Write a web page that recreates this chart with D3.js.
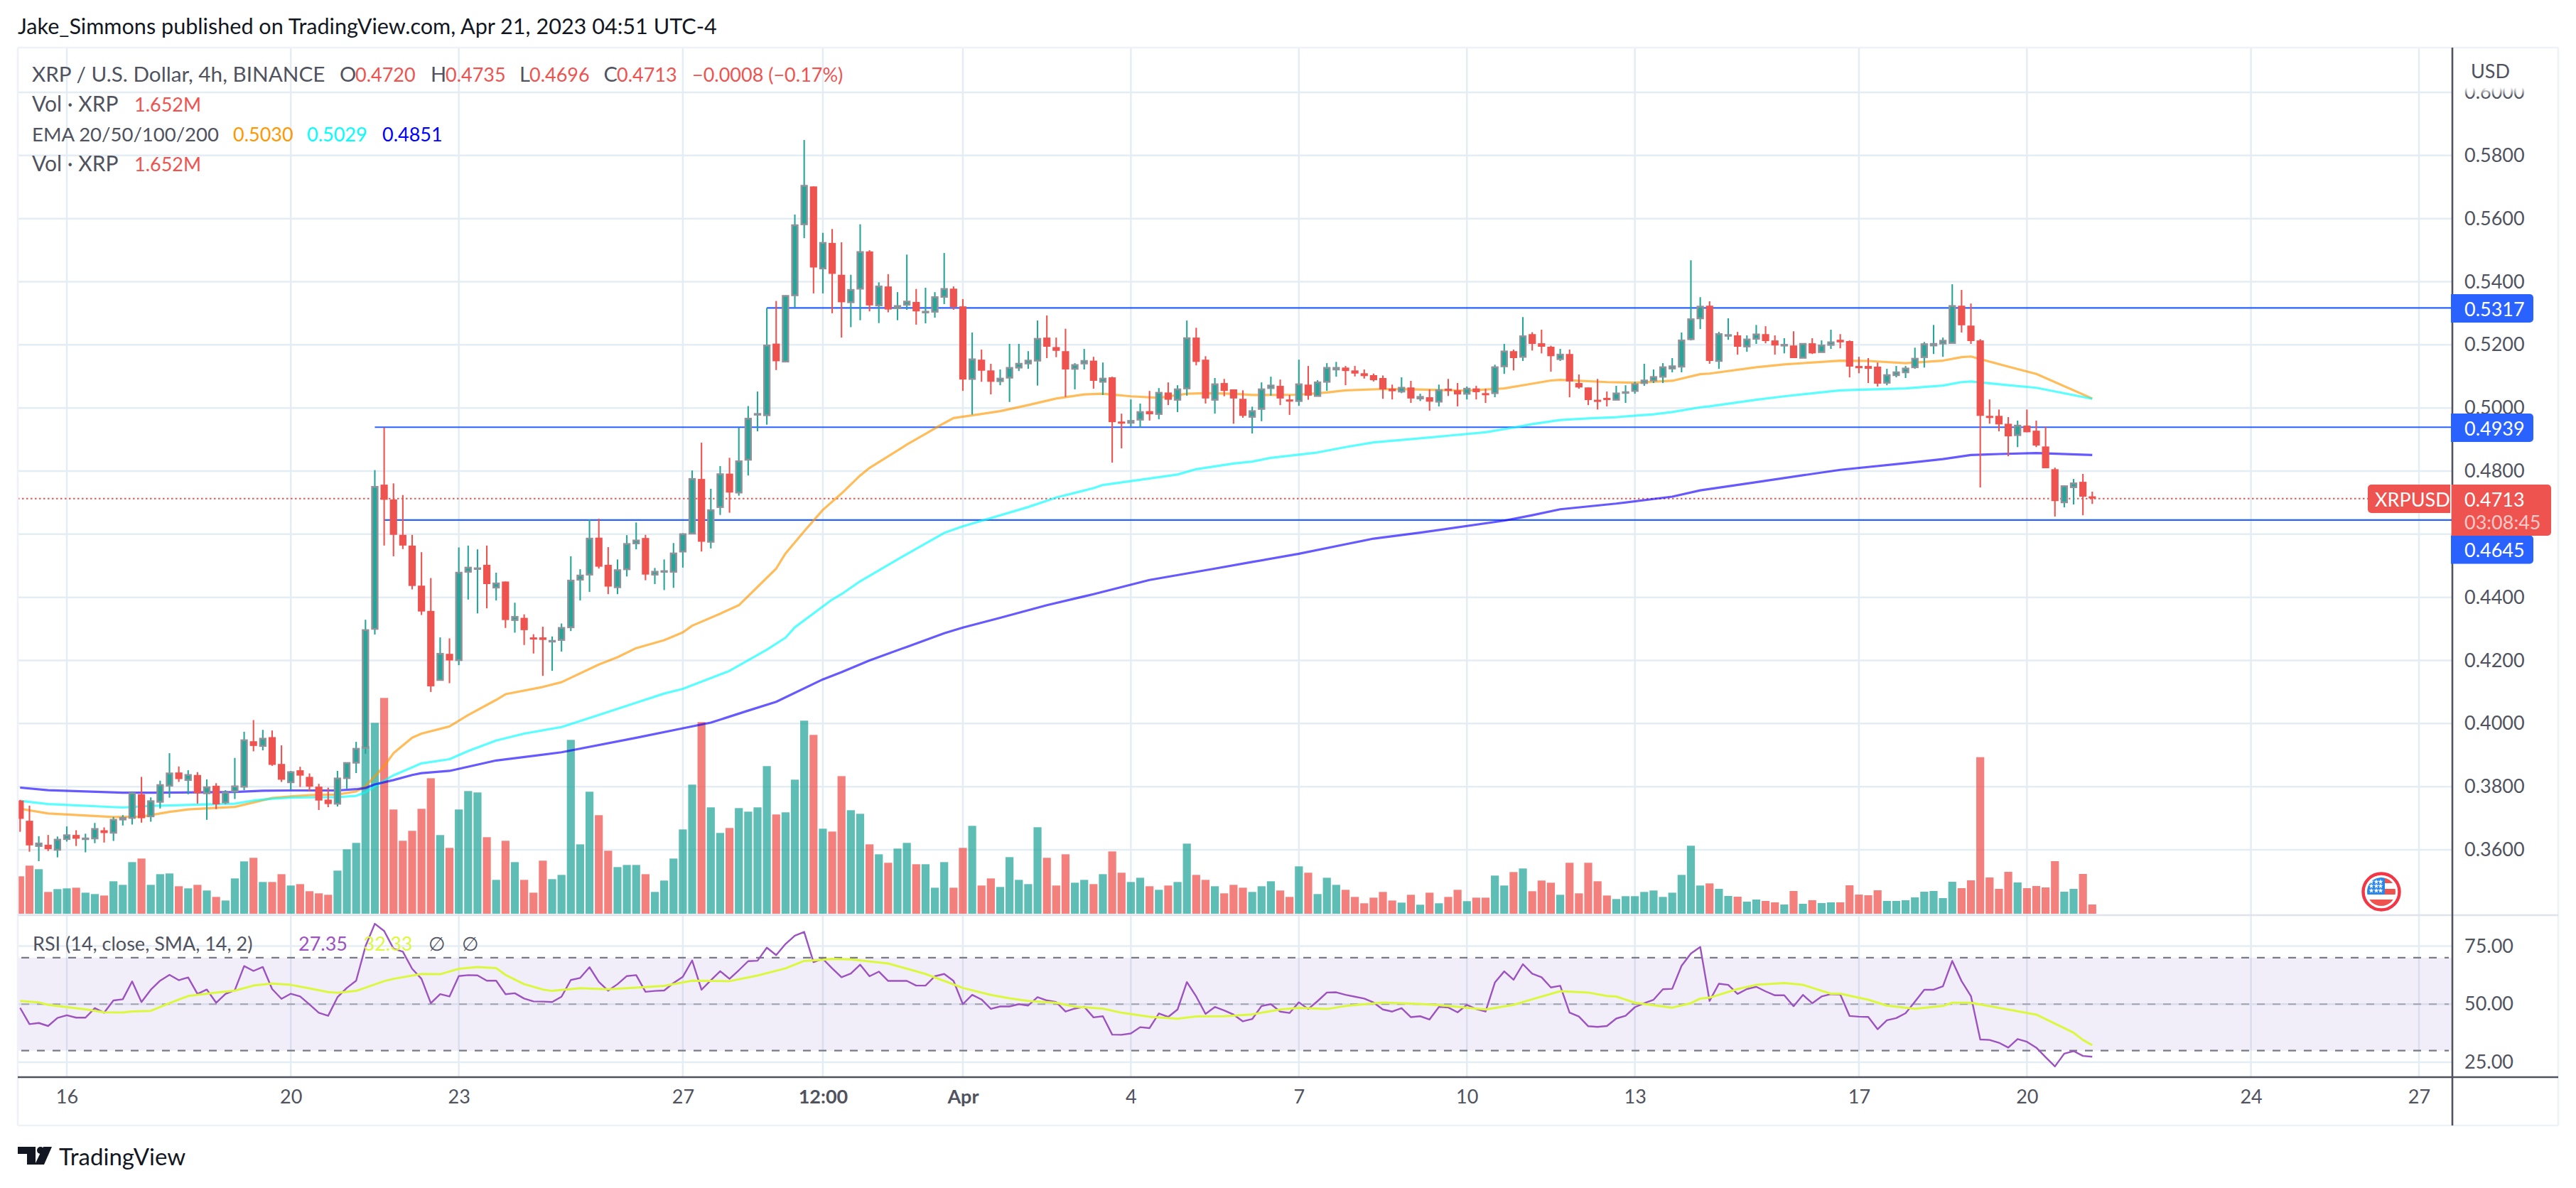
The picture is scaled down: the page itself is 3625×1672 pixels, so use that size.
<!DOCTYPE html>
<html><head><meta charset="utf-8"><script src="https://cdn.jsdelivr.net/npm/d3@7/dist/d3.min.js"></script>
<style>html,body{margin:0;padding:0;background:#fff}svg{display:block}text{font-family:Lato,"Open Sans",sans-serif}</style>
</head><body><svg id="c" width="3625" height="1672" viewBox="0 0 3625 1672"></svg>
<script>
// 4h bars, first bar = 5 bars before Mar 16 00:00
const firstBar = -5;
const opens = [.3756,.3692,.3612,.3616,.3600,.3634,.3647,.3636,.3636,.3662,
.3654,.3696,.3701,.3776,.3706,.3752,.3803,.3845,.3821,.3837,
.3779,.3803,.3750,.3785,.3800,.3944,.3929,.3957,.3872,.3814,
.3852,.3831,.3800,.3759,.3746,.3827,.3876,.3923,.4300,.4757,
.4710,.4598,.4564,.4437,.4357,.4138,.4221,.4201,.4481,.4492,
.4503,.4431,.4450,.4328,.4335,.4273,.4273,.4262,.4265,.4305,
.4456,.4472,.4589,.4503,.4432,.4489,.4571,.4588,.4472,.4483,
.4481,.4545,.4602,.4775,.4576,.4686,.4792,.4732,.4836,.4981,
.4977,.5204,.5147,.5357,.5582,.5702,.5442,.5523,.5422,.5335,
.5378,.5496,.5325,.5385,.5316,.5327,.5336,.5305,.5305,.5352,
.5378,.5322,.5092,.5153,.5119,.5085,.5096,.5128,.5141,.5150,
.5223,.5193,.5180,.5124,.5141,.5150,.5083,.5097,.4957,.4953,
.4963,.4990,.4981,.5049,.5026,.5062,.5223,.5153,.5026,.5079,
.5059,.5029,.4972,.4997,.5063,.5070,.5027,.5022,.5074,.5038,
.5083,.5122,.5128,.5119,.5110,.5104,.5095,.5061,.5052,.5065,
.5030,.5034,.5020,.5061,.5056,.5045,.5062,.5047,.5047,.5132,
.5180,.5162,.5234,.5205,.5194,.5155,.5171,.5079,.5065,.5026,
.5032,.5026,.5048,.5054,.5079,.5087,.5099,.5125,.5131,.5218,
.5284,.5324,.5149,.5231,.5230,.5195,.5219,.5234,.5214,.5200,
.5198,.5159,.5205,.5177,.5200,.5216,.5212,.5133,.5133,.5131,
.5080,.5104,.5113,.5129,.5161,.5198,.5204,.5206,.5324,.5261,
.5214,.4975,.4975,.4950,.4914,.4944,.4928,.4878,.4806,.4701,
.4749,.4766,.4720];
const high = [.3758,.3740,.3643,.3647,.3642,.3674,.3662,.3651,.3685,.3671,
.3704,.3710,.3785,.3831,.3766,.3819,.3906,.3864,.3852,.3846,
.3823,.3811,.3789,.3891,.3974,.4011,.3980,.3978,.3931,.3850,
.3863,.3842,.3809,.3797,.3850,.3875,.3942,.4329,.4803,.4938,
.4761,.4724,.4598,.4543,.4461,.4273,.4270,.4558,.4564,.4552,
.4564,.4478,.4450,.4383,.4346,.4283,.4307,.4276,.4317,.4530,
.4489,.4647,.4649,.4559,.4520,.4597,.4637,.4598,.4493,.4520,
.4572,.4603,.4802,.4890,.4744,.4816,.4842,.4938,.5006,.5052,
.5317,.5339,.5357,.5613,.5849,.5702,.5555,.5567,.5525,.5422,
.5582,.5500,.5398,.5424,.5367,.5486,.5377,.5381,.5367,.5491,
.5385,.5345,.5239,.5185,.5140,.5122,.5203,.5203,.5180,.5277,
.5293,.5223,.5251,.5142,.5187,.5162,.5144,.5099,.4982,.5027,
.5014,.5054,.5063,.5081,.5072,.5277,.5254,.5164,.5095,.5092,
.5059,.5056,.5004,.5081,.5099,.5090,.5041,.5153,.5133,.5088,
.5142,.5146,.5133,.5133,.5122,.5109,.5103,.5074,.5097,.5086,
.5045,.5059,.5074,.5092,.5079,.5068,.5070,.5061,.5137,.5203,
.5185,.5288,.5240,.5248,.5197,.5187,.5185,.5106,.5065,.5092,
.5052,.5070,.5072,.5083,.5140,.5122,.5142,.5158,.5239,.5468,
.5351,.5338,.5241,.5284,.5241,.5230,.5263,.5259,.5230,.5221,
.5243,.5205,.5221,.5214,.5248,.5234,.5214,.5162,.5158,.5144,
.5124,.5133,.5133,.5191,.5209,.5263,.5223,.5392,.5374,.5331,
.5218,.5027,.4995,.4971,.4960,.4995,.4960,.4941,.4811,.4754,
.4775,.4791,.4735];
const low = [.3657,.3594,.3564,.3596,.3576,.3626,.3612,.3592,.3621,.3623,
.3628,.3677,.3680,.3686,.3689,.3731,.3765,.3815,.3776,.3746,
.3695,.3729,.3745,.3761,.3789,.3912,.3915,.3866,.3815,.3790,
.3799,.3786,.3726,.3735,.3737,.3794,.3843,.3904,.4282,.4564,
.4530,.4553,.4425,.4344,.4100,.4137,.4128,.4185,.4393,.4349,
.4365,.4390,.4303,.4288,.4249,.4222,.4151,.4167,.4228,.4293,
.4390,.4417,.4491,.4410,.4410,.4466,.4552,.4454,.4442,.4423,
.4430,.4494,.4602,.4545,.4555,.4661,.4668,.4722,.4786,.4926,
.4947,.5120,.5147,.5318,.5538,.5363,.5363,.5300,.5223,.5256,
.5278,.5306,.5269,.5303,.5278,.5311,.5264,.5268,.5286,.5329,
.5311,.5054,.4979,.5083,.5043,.5072,.5019,.5117,.5124,.5071,
.5158,.5161,.5035,.5059,.5122,.5061,.5041,.4827,.4872,.4941,
.4938,.4960,.4964,.5009,.4987,.5039,.5135,.5014,.4982,.5037,
.4950,.4969,.4919,.4958,.5039,.5009,.4978,.5007,.5026,.5037,
.5054,.5099,.5072,.5100,.5093,.5084,.5029,.5027,.5047,.5016,
.5022,.4991,.5005,.5038,.5005,.5027,.5027,.5016,.5034,.5108,
.5119,.5149,.5182,.5173,.5115,.5149,.5034,.5061,.5009,.4995,
.5005,.5026,.5016,.5045,.5070,.5079,.5079,.5113,.5113,.5214,
.5250,.5140,.5124,.5216,.5169,.5178,.5203,.5205,.5169,.5173,
.5158,.5158,.5171,.5176,.5187,.5189,.5097,.5110,.5079,.5068,
.5072,.5097,.5095,.5124,.5128,.5171,.5162,.5205,.5239,.5203,
.4748,.4950,.4926,.4847,.4876,.4923,.4876,.4809,.4656,.4685,
.4694,.4660,.4696];
const closes = [.3698,.3614,.3620,.3602,.3632,.3646,.3635,.3636,.3666,.3653,
.3695,.3701,.3779,.3700,.3754,.3805,.3842,.3824,.3837,.3779,
.3798,.3744,.3781,.3801,.3947,.3929,.3952,.3869,.3822,.3846,
.3835,.3800,.3756,.3745,.3826,.3875,.3920,.4296,.4750,.4709,
.4598,.4564,.4436,.4355,.4118,.4221,.4200,.4478,.4494,.4492,
.4442,.4444,.4328,.4338,.4296,.4267,.4265,.4262,.4303,.4453,
.4469,.4586,.4497,.4434,.4486,.4569,.4580,.4472,.4481,.4483,
.4539,.4600,.4775,.4576,.4676,.4790,.4732,.4831,.4966,.4981,
.5198,.5148,.5355,.5579,.5704,.5445,.5523,.5425,.5335,.5374,
.5494,.5325,.5385,.5312,.5323,.5337,.5306,.5305,.5351,.5377,
.5320,.5090,.5154,.5118,.5083,.5093,.5127,.5140,.5150,.5219,
.5194,.5181,.5122,.5136,.5149,.5086,.5093,.4955,.4953,.4959,
.4987,.4980,.5048,.5026,.5059,.5221,.5146,.5030,.5075,.5054,
.5030,.4975,.4990,.5059,.5071,.5030,.5021,.5075,.5039,.5081,
.5127,.5127,.5117,.5109,.5101,.5088,.5059,.5053,.5064,.5030,
.5035,.5020,.5056,.5054,.5043,.5061,.5050,.5044,.5129,.5179,
.5158,.5227,.5203,.5194,.5164,.5169,.5084,.5065,.5025,.5023,
.5025,.5046,.5050,.5075,.5087,.5098,.5129,.5132,.5214,.5281,
.5321,.5149,.5234,.5231,.5194,.5217,.5233,.5212,.5198,.5200,
.5158,.5203,.5173,.5198,.5208,.5208,.5131,.5126,.5124,.5077,
.5104,.5113,.5125,.5156,.5202,.5203,.5213,.5323,.5262,.5212,
.4975,.4972,.4948,.4910,.4944,.4923,.4881,.4809,.4705,.4752,
.4761,.4719,.4713];
// volume in millions of XRP
const volume = [6.70,8.61,7.97,3.90,4.41,4.54,4.66,3.77,3.52,3.26,
5.81,5.17,9.24,9.88,5.17,7.08,7.21,4.92,4.54,5.17,
4.16,3.01,2.37,6.32,9.37,10.01,5.68,5.68,7.08,5.05,
5.30,4.03,3.65,3.39,7.72,11.53,12.68,29.98,34.17,38.63,
18.66,13.06,14.84,18.78,24.25,14.08,11.79,18.66,21.96,21.71,
13.70,6.06,13.06,9.24,6.06,3.77,9.50,6.19,6.95,31.12,
12.42,21.84,17.64,11.28,8.35,8.73,8.73,7.08,3.90,5.94,
9.88,15.09,23.11,34.30,19.04,14.46,15.35,18.91,18.27,19.04,
26.42,17.77,18.15,24.00,34.56,32.01,15.22,14.71,24.63,18.53,
17.89,12.42,10.64,9.12,11.66,12.68,8.86,8.86,4.66,9.24,
4.66,11.79,15.73,5.05,6.32,4.79,10.13,6.06,5.30,15.48,
10.01,5.05,10.64,5.55,6.06,5.30,7.08,11.15,7.34,5.68,
6.44,4.92,4.28,5.05,5.68,12.55,6.95,6.06,4.92,3.65,
5.17,4.66,3.90,4.92,5.81,4.16,3.01,8.48,7.34,3.52,
6.44,5.17,4.28,3.01,1.87,2.88,3.90,2.37,1.99,3.39,
1.61,3.77,1.87,3.01,4.28,2.25,2.88,2.88,6.83,5.05,
7.46,8.10,4.03,5.94,5.55,3.39,9.12,3.65,9.12,5.81,
3.26,2.63,3.14,3.14,3.90,4.16,3.01,3.77,6.95,12.17,
5.05,5.43,4.45,3.18,3.05,2.16,2.54,2.29,2.04,1.65,
4.07,1.78,2.42,1.91,2.04,2.04,5.09,3.43,3.31,4.20,
2.29,2.29,2.42,2.93,3.94,4.07,2.80,5.72,4.58,5.98,
28.03,6.49,4.45,7.50,5.60,4.58,4.96,4.71,9.41,3.94,
4.45,7.12,1.652];
const rsi = [48.4,41.4,41.9,40.6,44.1,45.2,44.2,44.2,48.3,46.3,
51.6,52.1,59.8,50.9,56.2,60.1,62.6,60.3,61.5,54.4,
56.3,50.6,54.4,56.0,66.4,64.3,66.0,56.5,52.3,54.5,
53.3,49.9,46.3,45.0,53.0,57.0,60.1,74.9,84.6,81.5,
73.9,72.6,65.2,60.9,50.4,54.3,53.3,62.1,62.5,62.4,
60.1,60.1,54.3,54.7,52.4,51.2,51.1,50.9,53.2,60.4,
61.3,65.9,59.6,55.8,58.6,62.1,62.5,55.3,55.7,55.9,
59.1,61.8,68.8,56.2,60.3,64.2,60.9,64.6,68.5,68.7,
74.3,71.1,75.9,79.5,81.1,68.1,69.5,65.4,61.6,63.2,
67,62,64,60,60,60,58,58,62,63,
60,50,54,52,48,49,49,50,49.4,53.0,
51.6,50.9,46.8,48.1,48.9,44.3,44.8,36.9,36.8,37.4,
40.1,39.7,46.0,44.5,47.7,59.5,53.3,45.8,48.8,47.3,
45.5,42.6,43.6,49.2,50.0,46.8,46.2,50.8,47.9,51.3,
55.0,55.1,54.0,53.2,52.4,50.7,47.7,46.8,48.3,44.4,
44.8,43.4,48.8,48.6,46.5,49.7,47.9,46.8,59.3,64.1,
60.5,67.2,63.1,61.6,57.2,57.9,46.4,44.7,40.5,40.2,
40.6,43.8,45.0,48.7,50.4,51.9,56.4,56.6,66.5,71.8,
74.6,51.4,58.8,58.3,54.4,56.5,57.5,55.5,53.8,53.8,
49.1,54.0,50.4,53.3,54.3,54.2,44.9,44.6,44.5,39.2,
43.1,44.0,46.1,51.1,56.2,56.2,57.7,68.6,59.9,53.5,
34.8,34.6,33.4,31.3,35.0,33.8,31.3,27.2,23.2,28.7,
29.8,27.7,27.35];
const rsiSmaBars = [-5,-3,-2,2,4,6,7,9,11,13,16,18,20,22,24,26,28,29,31,34,35,38,40,42,44,46,47,49,51,52,55,58,61,64,67,71,74,77,79,81,82,84,88,92,96,99,101,103,106,108,111,113,116,119,121,124,127,130,132,135,137,141,145,147,152,155,157,160,163,165,166,168,172,174,175,176,179,181,184,186,189,190,193,195,198,201,202,204,207,211,215,216,217];
const rsiSma = [51.4,50.8,49.7,47.8,46.5,46.4,46.9,47.1,50.4,53.5,55,55.8,58,58.9,58.3,56.8,55.2,54.9,55.7,59.9,60.9,63,62.9,65.2,66,65.5,62.6,58.6,56.3,55.7,56.9,56.4,57.1,57.9,60.1,59.9,62.3,65.4,68.6,69.1,69.5,69.3,67.5,63,57,54,52.5,51.4,50.6,48.9,48.1,46.3,44.6,43.7,44.7,44.8,45.6,47.7,48.4,47.9,49.2,50.7,50.1,49.6,47.7,49.7,52.1,55.6,55,53.5,53.3,50.6,48.5,50.4,52.4,52.8,56.5,58.3,59.1,58.3,54.5,54.5,51.9,49.4,48,49.2,50.6,50.6,48.4,45.5,37.7,34.6,32.33];
const emaOrangeBars = [-5,-2,5,8,11,13,18,22,24,26,29,31,32,34,35,37,38,41,43,46,47,51,53,57,59,61,64,66,67,70,72,76,77,79,81,83,85,86,90,92,94,95,98,100,103,106,109,111,114,117,120,122,125,127,132,135,137,141,144,150,154,157,159,160,165,168,172,175,176,181,184,190,193,197,201,203,204,208,211,217];
const emaOrange = [.3730,.3715,.3704,.3705,.3720,.3728,.3736,.3764,.3769,.3773,.3775,.3785,.3801,.3865,.3906,.3955,.3968,.3991,.4027,.4075,.4093,.4116,.4131,.4187,.4210,.4239,.4264,.4289,.4310,.4348,.4375,.4491,.4539,.4609,.4677,.4729,.4786,.4810,.4884,.4918,.4952,.4968,.4981,.4990,.5009,.5030,.5043,.5045,.5037,.5032,.5045,.5047,.5045,.5041,.5042,.5049,.5056,.5060,.5059,.5055,.5062,.5077,.5087,.5089,.5082,.5080,.5086,.5107,.5109,.5129,.5138,.5150,.5149,.5142,.5150,.5161,.5163,.5131,.5108,.5030];
const emaCyanBars = [-5,-2,6,9,15,18,20,22,24,26,29,31,32,33,35,37,38,41,43,46,49,53,57,61,64,66,71,75,77,78,82,83,85,90,94,96,103,106,110,111,119,121,125,127,129,134,137,140,145,152,155,157,160,163,166,170,172,175,176,181,184,190,197,201,203,204,208,211,217];
const emaCyan = [.3755,.3745,.3734,.3739,.3744,.3746,.3756,.3762,.3765,.3766,.3767,.3771,.3782,.3801,.3836,.3861,.3874,.3887,.3913,.3946,.3968,.3989,.4027,.4066,.4095,.4110,.4167,.4234,.4272,.4305,.4393,.4410,.4451,.4537,.4604,.4625,.4686,.4716,.4746,.4756,.4789,.4806,.4824,.4830,.4842,.4859,.4876,.4891,.4904,.4923,.4938,.4949,.4962,.4967,.4971,.4980,.4987,.5002,.5005,.5026,.5037,.5056,.5062,.5071,.5082,.5084,.5072,.5064,.5029];
const emaBlueBars = [-5,-2,6,9,18,21,24,29,31,32,33,35,37,38,41,46,53,61,66,69,73,76,81,83,86,90,94,96,100,105,110,116,123,127,132,137,140,145,154,157,160,166,172,175,181,190,197,201,204,207,211,217];
const emaBlue = [.3797,.3789,.3781,.3781,.3783,.3787,.3788,.3788,.3792,.3796,.3807,.3821,.3837,.3843,.3850,.3883,.3909,.3955,.3985,.4003,.4041,.4069,.4140,.4163,.4200,.4243,.4286,.4304,.4335,.4375,.4410,.4455,.4491,.4512,.4538,.4568,.4586,.4605,.4643,.4660,.4679,.4697,.4719,.4739,.4765,.4804,.4825,.4838,.4851,.4854,.4857,.4851];
const levels = [.5317,.4939,.4645];
const levelStartBars = [75,33,34];
const priceTicks = [.60,.58,.56,.54,.52,.50,.48,.46,.44,.42,.40,.38,.36];
const rsiTicks = [75,50,25];
const timeTickBars = [0,24,42,66,81,96,114,132,150,168,192,210,234,252];
const timeTickLabels = ["16","20","23","27","12:00","Apr","4","7","10","13","17","20","24","27"];
const lastPrice = .4713;

const L=25,R=3600,T=67,AX=3451,PB=1288,RB=1516,B=1584;
const GRID="#e4edf3",TXT="#50535e",UP="#26a69a",DN="#ef5350";
const svg=d3.select("#c");
const defs=svg.append("defs");
defs.append("clipPath").attr("id","mainClip").append("rect").attr("x",L).attr("y",T).attr("width",AX-L).attr("height",PB-T);
defs.append("clipPath").attr("id","rsiClip").append("rect").attr("x",L).attr("y",PB).attr("width",AX-L).attr("height",RB-PB);
defs.append("clipPath").attr("id","topClip").append("rect").attr("x",AX).attr("y",123).attr("width",R-AX).attr("height",60);
defs.append("clipPath").attr("id","flagClip").append("circle").attr("cx",3351).attr("cy",1255).attr("r",20);
const fade=defs.append("linearGradient").attr("id","fade").attr("x1",0).attr("y1",0).attr("x2",0).attr("y2",1);
fade.append("stop").attr("offset",0).attr("stop-color","#fff").attr("stop-opacity",1);
fade.append("stop").attr("offset",1).attr("stop-color","#fff").attr("stop-opacity",0);

const x=d3.scaleLinear().domain([0,252]).range([94,3404]);
const y=d3.scaleLinear().domain([.36,.60]).range([1196,130]);
const v=d3.scaleLinear().domain([0,40]).range([1286,971.5]);
const r=d3.scaleLinear().domain([25,75]).range([1495,1331.5]);
const bars=d3.range(opens.length).map(i=>({k:i+firstBar,o:opens[i],h:high[i],l:low[i],c:closes[i],v:volume[i],r:rsi[i]}));
const up=d=>d.c>=d.o;

// frame & grid
const grid=svg.append("g").attr("stroke",GRID).attr("stroke-width",2.5).attr("fill","none");
grid.selectAll("line.t").data(timeTickBars).join("line").attr("class","t").attr("x1",d=>x(d)).attr("x2",d=>x(d)).attr("y1",T).attr("y2",RB);
grid.selectAll("line.p").data(priceTicks).join("line").attr("class","p").attr("x1",L).attr("x2",AX).attr("y1",d=>y(d)).attr("y2",d=>y(d));
grid.selectAll("line.r").data(rsiTicks).join("line").attr("class","r").attr("x1",L).attr("x2",AX).attr("y1",d=>r(d)).attr("y2",d=>r(d));

// volume
const main=svg.append("g").attr("clip-path","url(#mainClip)");
main.append("g").selectAll("rect").data(bars).join("rect")
 .attr("x",d=>x(d.k)-5.6).attr("width",11.2).attr("y",d=>v(d.v)).attr("height",d=>v(0)-v(d.v))
 .attr("fill",d=>up(d)?UP:DN).attr("fill-opacity",.74);

// levels and last price
main.append("g").selectAll("line").data(levels).join("line")
 .attr("x1",(d,i)=>x(levelStartBars[i])).attr("x2",AX).attr("y1",d=>y(d)).attr("y2",d=>y(d))
 .attr("stroke","#2962ff").attr("stroke-width",2.2);
main.append("line").attr("x1",L).attr("x2",3332).attr("y1",y(lastPrice)).attr("y2",y(lastPrice))
 .attr("stroke",DN).attr("stroke-width",2).attr("stroke-dasharray","2.5 3.5");

// EMAs
const emaLine=d3.line().x(d=>x(d[0])).y(d=>y(d[1]));
[[emaOrangeBars,emaOrange,"#ff9800"],[emaCyanBars,emaCyan,"#00ffff"],[emaBlueBars,emaBlue,"#1400ff"]].forEach(([b,vals,col])=>{
 main.append("path").attr("d",emaLine(d3.zip(b,vals))).attr("fill","none").attr("stroke",col).attr("stroke-opacity",.65).attr("stroke-width",3.2).attr("stroke-linejoin","round");
});

// candles
const cg=main.append("g");
cg.selectAll("line").data(bars).join("line").attr("x1",d=>x(d.k)).attr("x2",d=>x(d.k)).attr("y1",d=>y(d.h)).attr("y2",d=>y(d.l))
 .attr("stroke",d=>up(d)?UP:DN).attr("stroke-width",2.1);
cg.selectAll("rect").data(bars).join("rect")
 .attr("x",d=>up(d)?x(d.k)-3.9:x(d.k)-5.1).attr("width",d=>up(d)?7.8:10.2)
 .attr("y",d=>y(Math.max(d.o,d.c)))
 .attr("height",d=>Math.max(Math.abs(y(d.o)-y(d.c)),up(d)?1:3))
 .attr("fill",d=>up(d)?UP:DN)
 .attr("stroke",d=>up(d)?"#8f9299":"none").attr("stroke-width",2.5);

// RSI
const rg=svg.append("g").attr("clip-path","url(#rsiClip)");
rg.append("rect").attr("x",L).attr("width",AX-L).attr("y",r(70)).attr("height",r(30)-r(70)).attr("fill","#7e57c2").attr("fill-opacity",.1);
rg.selectAll("line.d").data([70,50,30]).join("line").attr("class","d").attr("x1",L+5).attr("x2",AX-5).attr("y1",d=>r(d)).attr("y2",d=>r(d))
 .attr("stroke","#787b86").attr("stroke-opacity",d=>d===50?.6:1).attr("stroke-width",2.2).attr("stroke-dasharray","11 11");
const rLine=d3.line().x(d=>x(d[0])).y(d=>r(d[1]));
rg.append("path").attr("d",rLine(bars.map(d=>[d.k,d.r]))).attr("fill","none").attr("stroke","#9c52c0").attr("stroke-width",2.4).attr("stroke-linejoin","round");
rg.append("path").attr("d",rLine(d3.zip(rsiSmaBars,rsiSma))).attr("fill","none").attr("stroke","#dcf83c").attr("stroke-width",3).attr("stroke-linejoin","round");

// frame lines
const frame=svg.append("g");
[[L,T,R,T,"#eef1f6"],[L,T,L,B,"#eef1f6"],[R,T,R,B,"#eef1f6"],[L,B,R,B,"#eef1f6"],[L,PB,R,PB,"#e0e3eb"]].forEach(a=>{
 frame.append("line").attr("x1",a[0]).attr("y1",a[1]).attr("x2",a[2]).attr("y2",a[3]).attr("stroke",a[4]).attr("stroke-width",2.6);
});
frame.append("line").attr("x1",L).attr("x2",R).attr("y1",RB).attr("y2",RB).attr("stroke",TXT).attr("stroke-width",2.6);
frame.append("line").attr("x1",AX).attr("x2",AX).attr("y1",T).attr("y2",B).attr("stroke",TXT).attr("stroke-width",2.6);

// axes
const axisFont=27;
function styleAxis(g){g.select(".domain").remove();g.selectAll("text").attr("fill",TXT).style("font-family","Lato,'Open Sans',sans-serif").style("font-size",axisFont+"px");}
svg.append("g").attr("transform",`translate(${AX},0)`)
 .call(d3.axisRight(y).tickValues(priceTicks.filter(d=>d!==.60&&d!==.46)).tickFormat(d3.format(".4f")).tickSize(0).tickPadding(17)).call(styleAxis);
const topTick=svg.append("g").attr("clip-path","url(#topClip)");
topTick.append("g").attr("transform",`translate(${AX},0)`).call(d3.axisRight(y).tickValues([.60]).tickFormat(d3.format(".4f")).tickSize(0).tickPadding(17)).call(styleAxis);
topTick.append("rect").attr("x",AX+5).attr("width",140).attr("y",123).attr("height",12).attr("fill","url(#fade)");
svg.append("g").attr("transform",`translate(${AX},0)`).call(d3.axisRight(r).tickValues(rsiTicks).tickFormat(d3.format(".2f")).tickSize(0).tickPadding(17)).call(styleAxis);
svg.append("g").attr("transform",`translate(0,1526)`)
 .call(d3.axisBottom(x).tickValues(timeTickBars).tickFormat((d,i)=>timeTickLabels[i]).tickSize(0).tickPadding(8)).call(styleAxis)
 .selectAll("text").style("font-weight",(d,i)=>(i===4||i===5)?"700":"400");
const t=(s,xp,yp,o={})=>svg.append("text").text(s).attr("x",xp).attr("y",yp).attr("fill",o.fill||TXT).attr("font-size",o.size||27).attr("font-weight",o.w||400).attr("text-anchor",o.a||"start").attr("dominant-baseline",o.b||"auto");
t("USD",3477,99,{b:"central"});

// price labels
levels.forEach((p,i)=>{
 const cy=[434,602,773.5][i];
 svg.append("path").attr("d",`M${AX-2},${cy-20}H3560a5,5 0 0 1 5,5V${cy+15}a5,5 0 0 1 -5,5H${AX-2}Z`).attr("fill","#2962ff");
 t(d3.format(".4f")(p),3468,cy,{fill:"#fff",b:"central"});
});
svg.append("path").attr("d",`M${AX-1},682H3585a5,5 0 0 1 5,5V749a5,5 0 0 1 -5,5H${AX-1}Z`).attr("fill",DN);
t(d3.format(".4f")(lastPrice),3468,702,{fill:"#fff",b:"central"});
t("03:08:45",3468,734,{fill:"#fff",b:"central"}).attr("fill-opacity",.7);
svg.append("path").attr("d","M3448,682H3337a5,5 0 0 0 -5,5V717a5,5 0 0 0 5,5H3448Z").attr("fill",DN);
t("XRPUSD",3342,702,{fill:"#fff",b:"central"});

// legend
t("Jake_Simmons published on TradingView.com, Apr 21, 2023 04:51 UTC-4",25,48,{fill:"#131722",size:30.6});
t("XRP / U.S. Dollar, 4h, BINANCE",45,115,{size:29.7});
[["O",478,"0.4720",500],["H",606,"0.4735",627],["L",731,"0.4696",745],["C",849.5,"0.4713",868]].forEach(a=>{t(a[0],a[1],115,{size:29});t(a[2],a[3],115,{fill:DN});});
t("\u22120.0008 (\u22120.17%)",974,115,{fill:DN});
t("Vol \u00b7 XRP",45,157,{size:30});t("1.652M",189,157,{fill:DN});
t("EMA 20/50/100/200",45,199,{size:27.5});t("0.5030",328,199,{fill:"#ff9800"});t("0.5029",432,199,{fill:"#00ffff"});t("0.4851",538,199,{fill:"#0000ff"});
t("Vol \u00b7 XRP",45,241,{size:30});t("1.652M",189,241,{fill:DN});
t("RSI (14, close, SMA, 14, 2)",46,1338);t("27.35",420,1338,{fill:"#9c52c0"});t("32.33",511.5,1338,{fill:"#dcf83c"});
t("\u2205",603,1338);t("\u2205",650,1338);

// flag
const f=svg.append("g");
f.append("circle").attr("cx",3351).attr("cy",1255).attr("r",25.5).attr("fill","#fff").attr("stroke","#f23645").attr("stroke-width",4.4);
const fc=f.append("g").attr("clip-path","url(#flagClip)");
fc.append("rect").attr("x",3356).attr("y",1235).attr("width",20).attr("height",8).attr("fill",DN);
fc.append("rect").attr("x",3356).attr("y",1251).attr("width",20).attr("height",8).attr("fill",DN);
fc.append("rect").attr("x",3330).attr("y",1266).attr("width",42).attr("height",10).attr("fill",DN);
fc.append("rect").attr("x",3330).attr("y",1235).attr("width",26).attr("height",24).attr("fill","#2a86e8");
const star=d3.symbol().type(d3.symbolStar).size(16)();
[3337,3344,3350].forEach(a=>[1241,1247,1253.5].forEach(b=>fc.append("path").attr("d",star).attr("transform",`translate(${a},${b})`).attr("fill","#fff")));

// logo
const lg=svg.append("g").attr("fill","#131722");
lg.append("path").attr("d","M25,1614H50V1639H38V1624H25Z");
lg.append("circle").attr("cx",57).attr("cy",1619).attr("r",5);
lg.append("path").attr("d","M61,1614H73L62,1639H49Z");
t("TradingView",83,1640,{fill:"#131722",size:33});
</script></body></html>
